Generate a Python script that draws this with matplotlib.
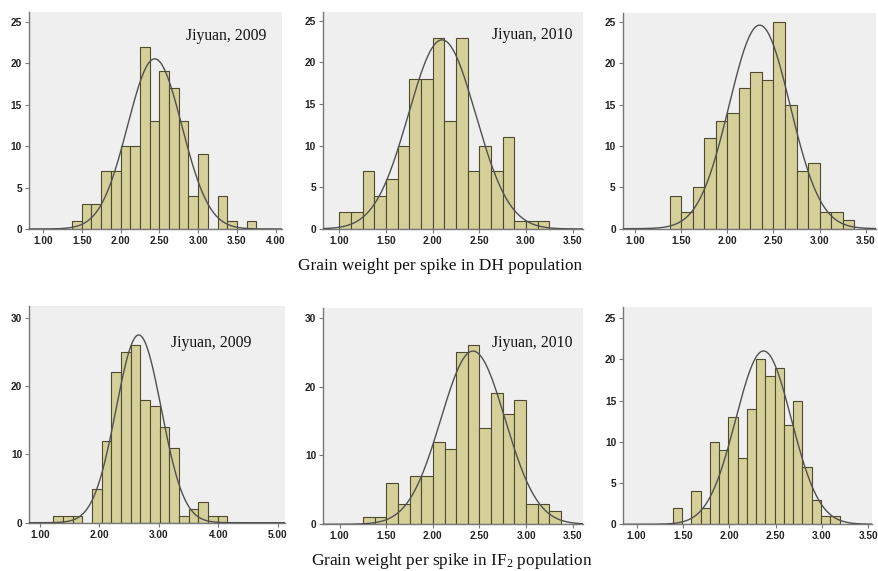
import numpy as np
import matplotlib.pyplot as plt

plt.rcParams['mathtext.fontset'] = 'custom'
plt.rcParams['mathtext.rm'] = 'Liberation Serif'
plt.rcParams['mathtext.it'] = 'Liberation Serif:italic'

# histogram counts (left to right, top row = DH, bottom row = IF2)
dh_2009_counts = [1, 3, 3, 7, 7, 10, 10, 22, 13, 19, 17, 13, 4, 9, 0, 4, 1, 0, 1]
dh_2010_counts = [2, 2, 7, 4, 6, 10, 18, 18, 23, 13, 23, 7, 10, 7, 11, 1, 1, 1]
dh_mean_counts = [4, 2, 5, 11, 13, 14, 17, 19, 18, 25, 15, 7, 8, 2, 2, 1]
if2_2009_counts = [1, 1, 1, 0, 5, 12, 22, 25, 26, 18, 17, 14, 11, 1, 2, 3, 1, 1]
if2_2010_counts = [1, 1, 6, 3, 7, 7, 12, 11, 25, 26, 14, 19, 16, 18, 3, 3, 2]
if2_mean_counts = [2, 0, 4, 2, 10, 9, 13, 8, 14, 20, 18, 19, 12, 15, 7, 3, 1, 1]

# first bin edge and bin width
bin_start = [1.375, 1.00, 1.375, 1.225, 1.25, 1.39]
bin_width = [0.125, 0.125, 0.125, 0.1625, 0.125, 0.10]

# fitted normal curve (mean, sd)
curve_mean = [2.44, 2.10, 2.35, 2.66, 2.43, 2.37]
curve_sd = [0.35, 0.36, 0.33, 0.38, 0.345, 0.30]

panel_labels = ["Jiyuan, 2009", "Jiyuan, 2010", "", "Jiyuan, 2009", "Jiyuan, 2010", ""]
x_ticks = [np.arange(1.0, 4.01, 0.5), np.arange(1.0, 3.51, 0.5), np.arange(1.0, 3.51, 0.5),
           np.arange(1.0, 5.01, 1.0), np.arange(1.0, 3.51, 0.5), np.arange(1.0, 3.51, 0.5)]
y_ticks = [range(0, 26, 5), range(0, 26, 5), range(0, 26, 5),
           range(0, 31, 10), range(0, 31, 10), range(0, 26, 5)]

all_counts = [dh_2009_counts, dh_2010_counts, dh_mean_counts,
              if2_2009_counts, if2_2010_counts, if2_mean_counts]

W, H = 879, 571
# axes boxes in pixels: left, top, right, bottom
boxes = [(29, 11.7, 282, 229), (323, 11.7, 583, 229), (622.7, 13, 876, 228.7),
         (29.3, 306, 285, 522.7), (323.3, 308, 583, 524.3), (623.3, 307.3, 872, 524.3)]
xlims = [(0.82, 4.08), (0.825, 3.61), (0.868, 3.61),
         (0.82, 5.12), (0.825, 3.61), (0.857, 3.54)]
ylims = [26.2, 26.1, 26.1, 31.7, 31.4, 26.3]
label_pos = [(0.937, 0.889), (0.96, 0.894), None, (0.87, 0.828), (0.96, 0.837), None]

bar_color = '#d5d09a'
edge_color = '#4d4a30'

fig = plt.figure(figsize=(W / 100, H / 100), dpi=100)

for i in range(6):
    l, t, r, b = boxes[i]
    ax = fig.add_axes([l / W, 1 - b / H, (r - l) / W, (b - t) / H])
    ax.set_facecolor('#efefef')

    counts = np.array(all_counts[i])
    edges = bin_start[i] + bin_width[i] * np.arange(len(counts))
    ax.bar(edges, counts, width=bin_width[i], align='edge',
           color=bar_color, edgecolor=edge_color, linewidth=0.8, zorder=2)

    xs = np.linspace(xlims[i][0], xlims[i][1], 400)
    n = counts.sum()
    ys = n * bin_width[i] / (curve_sd[i] * np.sqrt(2 * np.pi)) * \
        np.exp(-(xs - curve_mean[i]) ** 2 / (2 * curve_sd[i] ** 2))
    ax.plot(xs, ys, color='#505050', linewidth=1.0, zorder=3)

    ax.set_xlim(*xlims[i])
    ax.set_ylim(0, ylims[i])
    ax.set_xticks(x_ticks[i])
    ax.set_xticklabels([f"{v:.2f}" for v in x_ticks[i]])
    ax.set_yticks(list(y_ticks[i]))
    ax.tick_params(labelsize=7.3, length=3, width=0.8, color='#777777',
                   labelcolor='#222222', pad=2)
    for lab in ax.get_xticklabels() + ax.get_yticklabels():
        lab.set_fontweight('bold')
        lab.set_family('Liberation Sans')
    for s in ['top', 'right']:
        ax.spines[s].set_visible(False)
    for s in ['left', 'bottom']:
        ax.spines[s].set_color('#777777')
        ax.spines[s].set_linewidth(1.0)

    if panel_labels[i]:
        px, py = label_pos[i]
        ax.text(px, py, panel_labels[i], transform=ax.transAxes, ha='right', va='center',
                family='Liberation Serif', fontsize=11.3, color='#111111')

fig.text(440 / W, 1 - 266 / H, "Grain weight per spike in DH population",
         ha='center', va='center', family='Liberation Serif', fontsize=12.4, color='#111111')
fig.text(452 / W, 1 - 561 / H, "Grain weight per spike in IF$_2$ population",
         ha='center', va='center', family='Liberation Serif', fontsize=12.4, color='#111111')

fig.savefig('out.png', dpi=100, facecolor='white')
